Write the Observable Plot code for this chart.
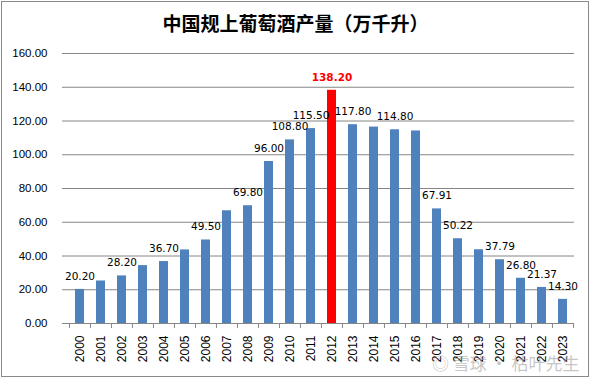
<!DOCTYPE html>
<html>
<head>
<meta charset="utf-8">
<script src="https://cdn.jsdelivr.net/npm/d3@7"></script>
<script src="https://cdn.jsdelivr.net/npm/@observablehq/plot@0.6"></script>
<style>
  html, body { margin: 0; padding: 0; background: #fff; }
  #wrap { position: relative; width: 591px; height: 379px; overflow: hidden; }
  #frame { position: absolute; left: 1px; top: 1px; width: 586px; height: 374px; border: 1px solid #8a8a8a; pointer-events: none; }
  #title { position: absolute; left: 0; top: 0; width: 591px; height: 40px; text-align: center; line-height: 46px;
           font-family: "Noto Sans CJK SC", sans-serif; font-weight: bold; font-size: 19px; color: #000; }
  #chart { position: absolute; left: 0; top: 40px; }
  #wm { position: absolute; left: 432px; top: 350px; font-family: "Noto Sans CJK SC", sans-serif; font-size: 17px;
        color: rgba(160,160,160,0.6); white-space: nowrap; }
</style>
</head>
<body>
<div id="wrap">
  <div id="title">中国规上葡萄酒产量（万千升）</div>
  <div id="chart"></div>
  <div id="wm">◎ 雪球 · 枯叶先生</div>
  <div id="frame"></div>
</div>
<script>
const years = ["2000","2001","2002","2003","2004","2005","2006","2007","2008","2009","2010","2011",
               "2012","2013","2014","2015","2016","2017","2018","2019","2020","2021","2022","2023"];
const output = [20.20, 25.2, 28.20, 34.3, 36.70, 43.6, 49.50, 66.8, 69.80, 96.00, 108.80, 115.50,
                138.20, 117.80, 116.4, 114.80, 114.1, 67.91, 50.22, 43.7, 37.79, 26.80, 21.37, 14.30];
const labelYears = ["2000","2002","2004","2006","2008","2009","2010","2011","2012","2013","2015",
                    "2017","2018","2020","2021","2022","2023"];
const highlightYear = "2012";
const yTicks = [0, 20, 40, 60, 80, 100, 120, 140, 160];

const data = years.map((y, i) => ({year: y, value: output[i], hl: y === highlightYear, lab: labelYears.includes(y)}));

const W = 591, H = 339, mL = 68, mR = 17, mT = 13, mB = 56;
const step = (W - mL - mR) / years.length;

const chart = Plot.plot({
  width: W, height: H,
  marginLeft: mL, marginRight: mR, marginTop: mT, marginBottom: mB,
  style: {fontFamily: "'Liberation Sans', Arial, sans-serif", background: "#fff", color: "#000"},
  x: {domain: years, paddingInner: 0.57, paddingOuter: 0.285, label: null},
  y: {domain: [0, 160], label: null},
  marks: [
    Plot.ruleY(yTicks, {stroke: "#868686", strokeWidth: 1}),
    Plot.ruleX([0], {frameAnchor: "left", stroke: "#868686"}),
    Plot.barY(data, {x: "year", y: "value", fill: d => d.hl ? "#FF0000" : "#4F81BD"}),
    Plot.ruleX(years, {x: d => d, dx: -step / 2, y1: 0, y2: -3, stroke: "#868686"}),
    Plot.ruleX([years[years.length - 1]], {x: d => d, dx: step / 2, y1: 0, y2: -3, stroke: "#868686"}),
    Plot.axisY(yTicks, {ticks: yTicks, tickFormat: d => d.toFixed(2), tickSize: 6, tickPadding: 15,
                        stroke: "#868686", fontSize: 11.5, fill: "#000"}),
    Plot.axisX({tickRotate: -90, tickSize: 0, tickPadding: 12, fontSize: 12, fill: "#000"}),
    Plot.text(data.filter(d => d.lab && !d.hl), {x: "year", y: "value", text: d => d.value.toFixed(2),
      dy: -13, fontSize: 10.5, fontFamily: "'DejaVu Sans', sans-serif", fill: "#000"}),
    Plot.text(data.filter(d => d.hl), {x: "year", y: "value", text: d => d.value.toFixed(2),
      dy: -13, fontSize: 10.5, fontWeight: "bold", fontFamily: "'DejaVu Sans', sans-serif", fill: "#FF0000"})
  ]
});
document.getElementById("chart").appendChild(chart);
</script>
</body>
</html>
